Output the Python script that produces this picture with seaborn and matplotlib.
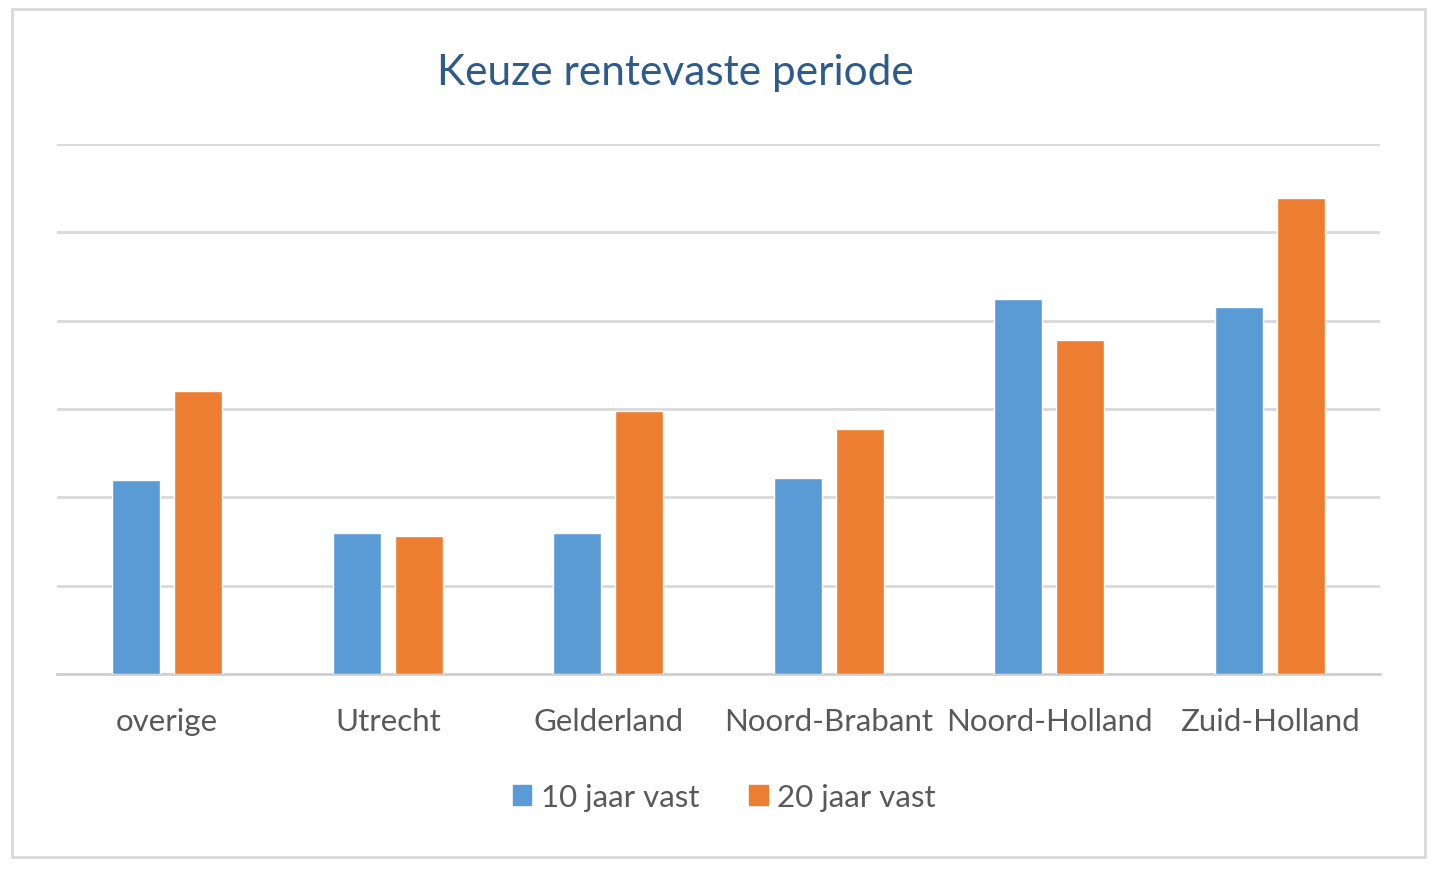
import pandas as pd
import numpy as np
import seaborn as sns
import matplotlib.pyplot as plt
from matplotlib.patches import Rectangle

# data (no axis labels, units = gridline steps)
provincies = ['overige', 'Utrecht', 'Gelderland', 'Noord-Brabant', 'Noord-Holland', 'Zuid-Holland']
tien_jaar = [2.20, 1.60, 1.60, 2.22, 4.25, 4.16]
twintig_jaar = [3.20, 1.56, 2.98, 2.77, 3.78, 5.39]
series = ['10 jaar vast', '20 jaar vast']

df = pd.DataFrame({
    'provincie': provincies * 2,
    'waarde': tien_jaar + twintig_jaar,
    'serie': [series[0]] * len(provincies) + [series[1]] * len(provincies),
})

sns.set_style('white')
plt.rcParams['font.family'] = ['Lato', 'DejaVu Sans']

fig = plt.figure(figsize=(14.4, 8.7), dpi=100)
ax = fig.add_axes([0.0396, 0.2241, 0.9187, 0.6092])

sns.barplot(data=df, x='provincie', y='waarde', hue='serie',
            palette=['#5B9BD5', '#ED7D31'], saturation=1, width=0.5625, gap=0.226,
            order=provincies, hue_order=series, ax=ax, zorder=3)

ax.set_ylim(0, 6)
ax.set_xlim(-0.5, len(provincies) - 0.5)
ax.set_yticks(range(0, 7))
ax.set_yticklabels([])
ax.tick_params(axis='y', length=0)
ax.tick_params(axis='x', length=0, pad=23.5, labelsize=22.5, labelcolor='#595959')
ax.grid(axis='y', color='#D9D9D9', linewidth=2, zorder=0)
ax.set_axisbelow(True)
for s in ['top', 'right', 'left']:
    ax.spines[s].set_visible(False)
ax.spines['bottom'].set_color('#CFCFCF')
ax.spines['bottom'].set_linewidth(2)
ax.set_xlabel('')
ax.set_ylabel('')

ax.legend_.remove()
handles = [Rectangle((0, 0), 1, 1, color=c) for c in ['#5B9BD5', '#ED7D31']]
fig.legend(handles, series, loc='center', bbox_to_anchor=(0.503, 0.083), ncol=2,
           frameon=False, fontsize=22.5, labelcolor='#595959',
           handlelength=0.6, handleheight=0.6, handletextpad=0.3, columnspacing=1.6)

fig.text(0.469, 0.916, 'Keuze rentevaste periode', ha='center', va='center',
         fontsize=30.5, color='#2F5B8A')

fig.patches.append(Rectangle((12 / 1440, 1 - 858 / 870), 1413 / 1440, 848 / 870,
                             transform=fig.transFigure, fill=False,
                             edgecolor='#D9D9D9', linewidth=2))

fig.savefig('out.png', dpi=100)
